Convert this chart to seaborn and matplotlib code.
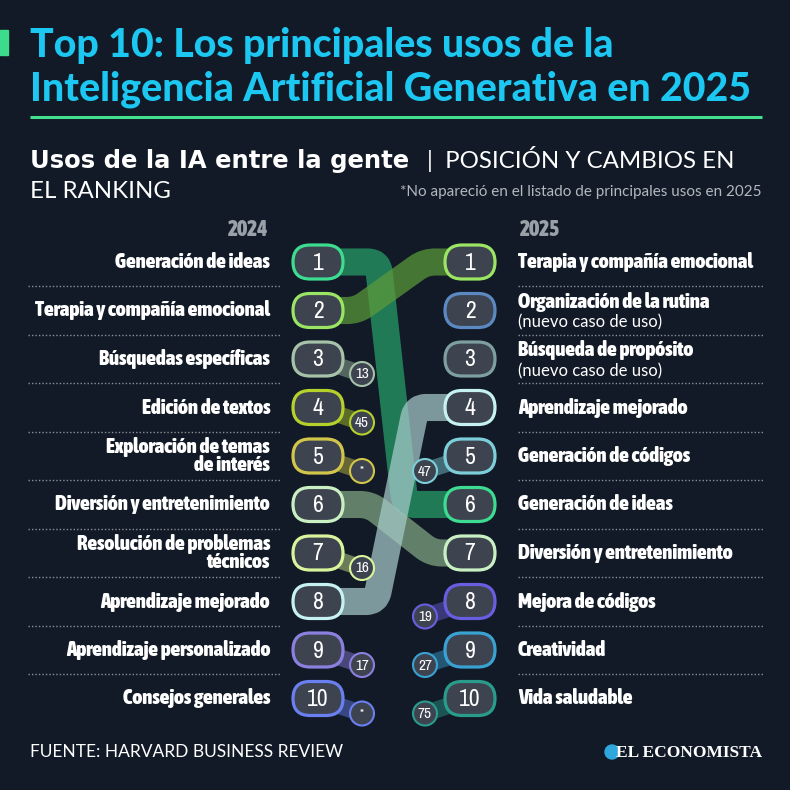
import numpy as np
import matplotlib.pyplot as plt
import seaborn as sns
from matplotlib import font_manager
from matplotlib.font_manager import FontProperties
from matplotlib.patches import FancyBboxPatch, Circle, PathPatch, Rectangle
from matplotlib.path import Path

# ── Style ─────────────────────────────────────────────────────
sns.set_theme(style="white")


def _w(f):
    w = f.weight
    return w if isinstance(w, int) else font_manager.weight_dict.get(w, 400)


# boldest / regular condensed faces, if installed
_cond = [f for f in font_manager.fontManager.ttflist
         if ('Condensed' in f.name or 'Narrow' in f.name)
         and f.style == 'normal']
if _cond:
    _bold = max(_cond, key=_w)
    _reg = min(_cond, key=lambda f: abs(_w(f) - 400))
    COND_B = dict(fname=_bold.fname)
    COND_R = dict(fname=_reg.fname)
    LABEL_SIZE = 15
else:
    COND_B = dict(family='Roboto', weight='bold')
    COND_R = dict(family='Roboto')
    LABEL_SIZE = 12

plt.rcParams['font.family'] = ['Lato', 'DejaVu Sans']

BG = '#111a26'
PILL = '#3e4350'
GEO = ['Lato', 'DejaVu Sans']


def fp_b(size):
    return FontProperties(size=size, **COND_B)


def fp_r(size):
    return FontProperties(size=size, **COND_R)


# ── Data ──────────────────────────────────────────────────────
usos_2024 = ['Generación de ideas', 'Terapia y compañía emocional',
             'Búsquedas específicas', 'Edición de textos',
             'Exploración de temas\nde interés', 'Diversión y entretenimiento',
             'Resolución de problemas\ntécnicos', 'Aprendizaje mejorado',
             'Aprendizaje personalizado', 'Consejos generales']
usos_2025 = ['Terapia y compañía emocional', 'Organización de la rutina',
             'Búsqueda de propósito', 'Aprendizaje mejorado',
             'Generación de códigos', 'Generación de ideas',
             'Diversión y entretenimiento', 'Mejora de códigos',
             'Creatividad', 'Vida saludable']
nuevos_2025 = [2, 3]

# 2025 position of each 2024 use (None = no apareció en 2025)
pos_2025_de_2024 = [6, 1, 13, 45, None, 7, 16, 4, 17, None]
# 2024 position of each 2025 use (None = nuevo caso de uso)
pos_2024_de_2025 = [2, None, None, 8, 47, 1, 6, 19, 27, 75]

colores_2024 = ['#3ddc91', '#9be564', '#a6c2a8', '#b6d12c', '#d2c64a',
                '#c9f0c2', '#d9f59c', '#c6f2f2', '#8b80e0', '#6a80f0']
colores_2025 = ['#9be564', '#5b89c2', '#7e9f9f', '#c6f2f2', '#7ccfd8',
                '#3ddc91', '#c9f0c2', '#6a5ee0', '#3aa2d2', '#2a9c8c']
colores_banda = {1: '#26a06a', 2: '#5c9a3a', 6: '#82a884', 8: '#a6caca'}


# ── Helpers ───────────────────────────────────────────────────
def y_pos(rank):
    return 262 + 48.5 * (rank - 1)


X_L, X_R = 318, 470


def rounded_path(pts, r=10):
    verts, codes = [pts[0]], [Path.MOVETO]
    for i in range(1, len(pts) - 1):
        p0, p1, p2 = (np.array(p, float) for p in pts[i - 1:i + 2])
        d1 = (p0 - p1) / np.linalg.norm(p0 - p1)
        d2 = (p2 - p1) / np.linalg.norm(p2 - p1)
        verts += [tuple(p1 + d1 * r), tuple(p1), tuple(p1 + d2 * r)]
        codes += [Path.LINETO, Path.CURVE3, Path.CURVE3]
    verts.append(pts[-1])
    codes.append(Path.LINETO)
    return Path(verts, codes)


def pill(ax, x, y, color, text):
    w, h = 50, 34
    ax.add_patch(FancyBboxPatch((x - w / 2, y - h / 2), w, h,
                                boxstyle='round,pad=0,rounding_size=17',
                                fc=PILL, ec=color, lw=2.3, zorder=5))
    ax.text(x, y + 1, text, color='white', fontproperties=fp_r(17),
            ha='center', va='center', zorder=6)


def mini(ax, x, y, color, text):
    ax.add_patch(Circle((x, y), 12, fc=PILL, ec=color, lw=1.5, zorder=5))
    ax.text(x, y + 0.5, text, color='white',
            fontproperties=fp_r(11 if text != '*' else 9),
            ha='center', va='center', zorder=6)


# ── Figure ────────────────────────────────────────────────────
fig = plt.figure(figsize=(7.9, 7.9), dpi=100)
fig.patch.set_facecolor(BG)
ax = fig.add_axes([0, 0, 1, 1])
ax.set_xlim(0, 790)
ax.set_ylim(790, 0)
ax.axis('off')

# title block
ax.add_patch(Rectangle((0, 30), 8, 25, color='#3ddc8c'))
ax.text(30, 57, 'Top 10: Los principales usos de la', color='#1cc7f1',
        fontsize=28.3, fontweight='black', family=GEO, va='baseline')
ax.text(30, 100, 'Inteligencia Artificial Generativa en 2025', color='#1cc7f1',
        fontsize=28.3, fontweight='black', family=GEO, va='baseline')
ax.plot([30, 762], [117, 117], color='#44e08f', lw=2.2, solid_capstyle='butt')

ax.text(30, 168, 'Usos de la IA entre la gente', color='white', fontsize=17.5,
        fontweight='bold', family='DejaVu Sans', va='baseline')
ax.text(427, 168, '|  POSICIÓN Y CAMBIOS EN', color='white', fontsize=17.3,
        family=GEO, va='baseline')
ax.text(30, 198, 'EL RANKING', color='white', fontsize=17.3,
        family=GEO, va='baseline')
ax.text(762, 196, '*No apareció en el listado de principales usos en 2025',
        color='#b3b8bf', fontsize=11, family=GEO, ha='right', va='baseline')

ax.text(248, 230, '2024', color='#9aa0a8', fontproperties=fp_b(15.5),
        ha='center', va='center')
ax.text(540, 230, '2025', color='#9aa0a8', fontproperties=fp_b(15.5),
        ha='center', va='center')

# dotted separators
for r in range(1, 10):
    ym = (y_pos(r) + y_pos(r + 1)) / 2
    ax.plot([28, 281], [ym, ym], color='#8a9099', lw=1, ls=(0, (1, 1.5)))
    ax.plot([518, 763], [ym, ym], color='#8a9099', lw=1, ls=(0, (1, 1.5)))

# flows between the two rankings
bend = {1: (378, 405), 2: (357, 425), 6: (370, 432), 8: (376, 416)}
for i, r25 in enumerate(pos_2025_de_2024):
    r24 = i + 1
    y0 = y_pos(r24)
    if r25 is not None and r25 <= 10:
        xa, xb = bend[r24]
        y1 = y_pos(r25)
        pts = [(X_L, y0), (xa, y0), (xb, y1), (X_R, y1)]
        ax.add_patch(PathPatch(rounded_path(pts), fill=False,
                               ec=colores_banda[r24], lw=19.5, alpha=0.72,
                               capstyle='butt', joinstyle='round', zorder=2))
    else:
        label = '*' if r25 is None else str(r25)
        ax.plot([X_L, 362], [y0, y0 + 15], color=colores_2024[i], lw=12,
                alpha=0.45, solid_capstyle='butt', zorder=3)
        mini(ax, 362, y0 + 15, colores_2024[i], label)

for i, r24 in enumerate(pos_2024_de_2025):
    y0 = y_pos(i + 1)
    if r24 is not None and r24 > 10:
        ax.plot([X_R, 425], [y0, y0 + 15], color=colores_2025[i], lw=12,
                alpha=0.45, solid_capstyle='butt', zorder=3)
        mini(ax, 425, y0 + 15, colores_2025[i], str(r24))

# pills and labels
for i in range(10):
    y = y_pos(i + 1)
    pill(ax, X_L, y, colores_2024[i], str(i + 1))
    pill(ax, X_R, y, colores_2025[i], str(i + 1))
    ax.text(270, y, usos_2024[i], color='white', fontproperties=fp_b(LABEL_SIZE),
            ha='right', va='center', linespacing=0.92)
    if (i + 1) in nuevos_2025:
        ax.text(518, y - 9, usos_2025[i], color='white',
                fontproperties=fp_b(LABEL_SIZE), ha='left', va='center')
        ax.text(518, y + 12, '(nuevo caso de uso)', color='white',
                fontsize=12, family=GEO, ha='left', va='center')
    else:
        ax.text(518, y, usos_2025[i], color='white',
                fontproperties=fp_b(LABEL_SIZE), ha='left', va='center')

# footer
ax.text(30, 752, 'FUENTE: HARVARD BUSINESS REVIEW', color='white', fontsize=12.5,
        family=GEO, va='center')
ax.add_patch(Circle((612, 752), 7, color='#2fa6dc'))
ax.text(762, 753, 'EL ECONOMISTA', color='white', fontsize=12.5,
        fontweight='bold', family=['Liberation Serif', 'DejaVu Serif'],
        ha='right', va='center')

fig.savefig('out.png', dpi=100, facecolor=BG)
